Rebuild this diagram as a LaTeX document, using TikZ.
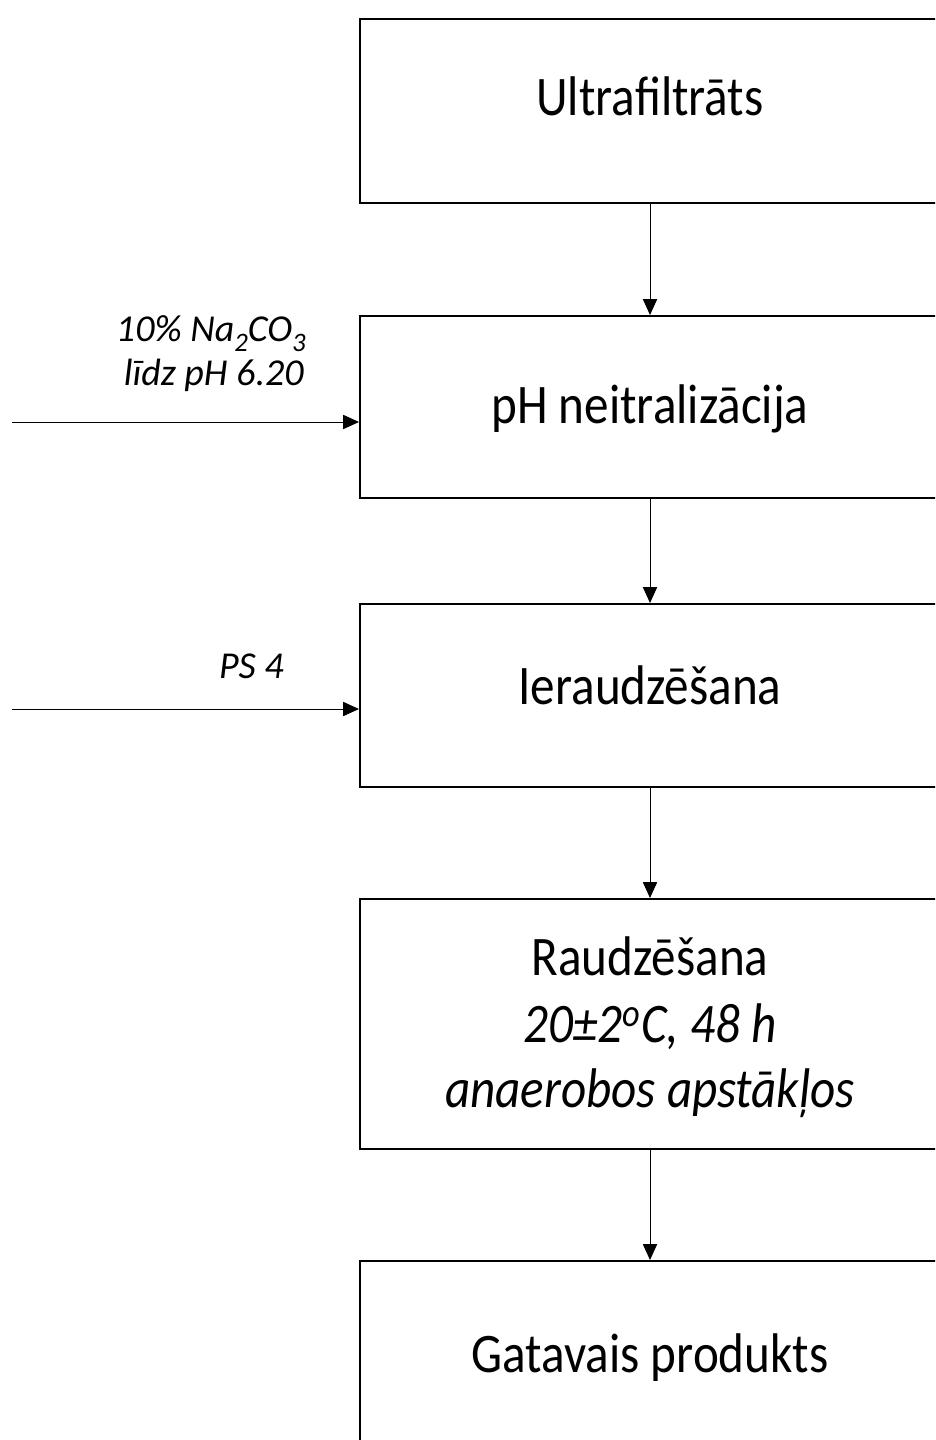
\documentclass[tikz,border=0pt]{standalone}
\usepackage{fontspec}
\setmainfont{Carlito}
\newfontfamily\tallfont{Carlito}[FakeStretch=0.88]
\usetikzlibrary{arrows.meta}
\tikzset{
  box/.style={draw=black, line width=1.3pt, anchor=north west, inner sep=0pt, minimum width=363pt},
  maintext/.style={anchor=base, inner sep=0pt, font=\tallfont\fontsize{33.5}{39.6}\selectfont},
  sidetext/.style={anchor=base east, inner sep=0pt, align=right, font=\fontsize{22.8}{26}\selectfont\itshape},
  arr/.style={draw=black, line width=0.6pt, -{Triangle[length=9.5pt,width=8.5pt]}}
}
\newcommand{\lowsub}[1]{\raisebox{-0.27em}{\fontsize{16}{16}\selectfont #1}}
\begin{document}
\begin{tikzpicture}[x=0.6pt,y=-0.6pt]
\useasboundingbox (0,0) rectangle (935,1440);
\clip (0,0) rectangle (935,1440);
% boxes
\node[box, minimum height=110.4pt] (b1) at (359,18) {};
\node[box, minimum height=109.2pt] (b2) at (359,315) {};
\node[box, minimum height=109.8pt] (b3) at (359,603) {};
\node[box, minimum height=150pt] (b4) at (359,898) {};
\node[box, minimum height=150pt] (b5) at (359,1260) {};
% texts
\node[maintext] (t1) at (650,115) {Ultrafiltrāts};
\node[maintext] (t2) at (650,423) {pH neitralizācija};
\node[maintext] (t3) at (650,704) {Ieraudzēšana};
\node[maintext] (t4a) at (650,975) {Raudzēšana};
\node[maintext] (t4b) at (650,1042) {\itshape 20±2\textsuperscript{o}C, 48 h};
\node[maintext] (t4c) at (650,1107) {\itshape anaerobos apstākļos};
\node[maintext] (t5) at (650,1372) {Gatavais produkts};
% side labels
\node[sidetext] (s1) at (306,385) {10\% Na\lowsub{2}CO\lowsub{3}\\līdz pH 6.20\kern1.2pt};
\node[sidetext] (s3) at (284,678) {PS 4};
% vertical arrows
\draw[arr] (t1 |- b1.south) -- (t1 |- b2.north);
\draw[arr] (t1 |- b2.south) -- (t1 |- b3.north);
\draw[arr] (t1 |- b3.south) -- (t1 |- b4.north);
\draw[arr] (t1 |- b4.south) -- (t1 |- b5.north);
% side arrows
\coordinate (in1) at (12,422);
\coordinate (in2) at (12,709);
\draw[arr] (in1) -- (in1 -| b2.west);
\draw[arr] (in2) -- (in2 -| b3.west);
\end{tikzpicture}
\end{document}
